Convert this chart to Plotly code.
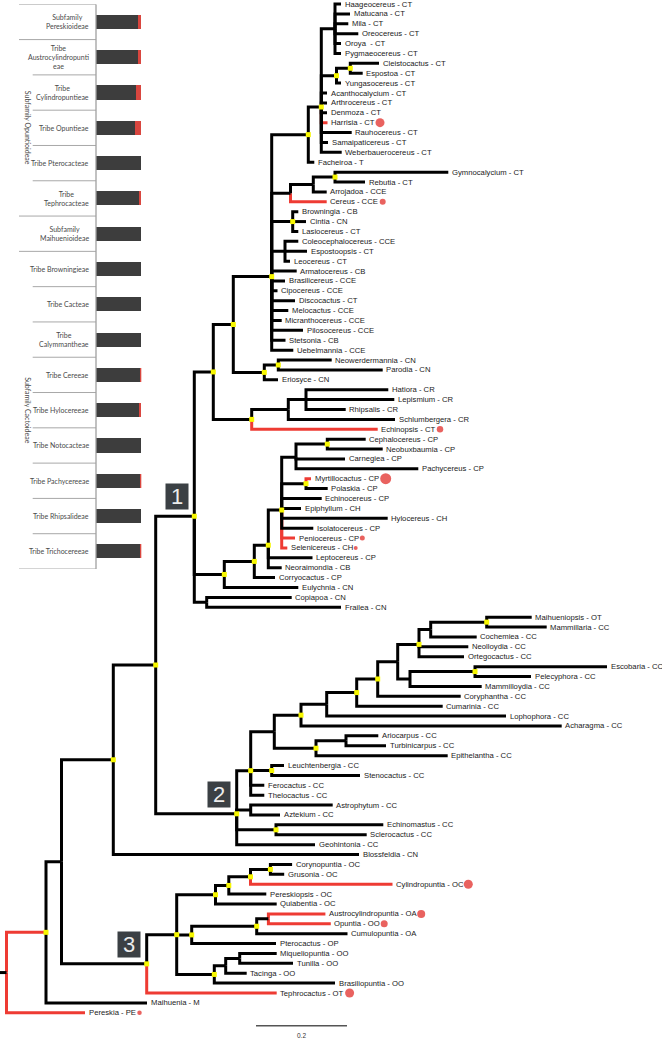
import plotly.graph_objects as go

# ---------------- tree data (leaf order top -> bottom) ----------------
leaf_names = [
    "Haageocereus", "Matucana", "Mila", "Oreocereus", "Oroya ", "Pygmaeocereus",
    "Cleistocactus", "Espostoa", "Yungasocereus", "Acanthocalycium", "Arthrocereus",
    "Denmoza", "Harrisia", "Rauhocereus", "Samaipaticereus", "Weberbauerocereus",
    "Facheiroa", "Gymnocalycium", "Rebutia", "Arrojadoa", "Cereus", "Browningia",
    "Cintia", "Lasiocereus", "Coleocephalocereus", "Espostoopsis", "Leocereus",
    "Armatocereus", "Brasilicereus", "Cipocereus", "Discocactus", "Melocactus",
    "Micranthocereus", "Pilosocereus", "Stetsonia", "Uebelmannia", "Neowerdermannia",
    "Parodia", "Eriosyce", "Hatiora", "Lepismium", "Rhipsalis", "Schlumbergera",
    "Echinopsis", "Cephalocereus", "Neobuxbaumia", "Carnegiea", "Pachycereus",
    "Myrtillocactus", "Polaskia", "Echinocereus", "Epiphyllum", "Hylocereus",
    "Isolatocereus", "Peniocereus", "Selenicereus", "Leptocereus", "Neoraimondia",
    "Corryocactus", "Eulychnia", "Copiapoa", "Frailea", "Maihueniopsis", "Mammillaria",
    "Cochemiea", "Neolloydia", "Ortegocactus", "Escobaria", "Pelecyphora",
    "Mammilloydia", "Coryphantha", "Cumarinia", "Lophophora", "Acharagma",
    "Ariocarpus", "Turbinicarpus", "Epithelantha", "Leuchtenbergia", "Stenocactus",
    "Ferocactus", "Thelocactus", "Astrophytum", "Aztekium", "Echinomastus",
    "Sclerocactus", "Geohintonia", "Blossfeldia", "Corynopuntia", "Grusonia",
    "Cylindropuntia", "Pereskiopsis", "Quiabentia", "Austrocylindropuntia", "Opuntia",
    "Cumulopuntia", "Pterocactus", "Miqueliopuntia", "Tunilla", "Tacinga",
    "Brasiliopuntia", "Tephrocactus", "Maihuenia", "Pereskia",
]
leaf_codes = [
    "CT", "CT", "CT", "CT", "CT", "CT", "CT", "CT", "CT", "CT", "CT", "CT", "CT", "CT", "CT", "CT",
    "T", "CT", "CT", "CCE", "CCE", "CB", "CN", "CT", "CCE", "CT", "CT", "CB", "CCE", "CCE",
    "CT", "CCE", "CCE", "CCE", "CB", "CCE", "CN", "CN", "CN", "CR", "CR", "CR", "CR", "CT",
    "CP", "CP", "CP", "CP", "CP", "CP", "CP", "CH", "CH", "CP", "CP", "CH", "CP", "CB",
    "CP", "CN", "CN", "CN", "OT", "CC", "CC", "CC", "CC", "CC", "CC", "CC", "CC", "CC",
    "CC", "CC", "CC", "CC", "CC", "CC", "CC", "CC", "CC", "CC", "CC", "CC", "CC", "CC",
    "CN", "OC", "OC", "OC", "OC", "OC", "OA", "OO", "OA", "OP", "OO", "OO", "OO", "OO",
    "OT", "M", "PE",
]
# cumulative depth of each tip (plot units; 455 units = 1 substitution/site)
leaf_depth = [
    341, 350, 348.3, 358.3, 341, 341, 379, 362.7, 341, 327,
    327, 327, 327.5, 351.7, 328, 341.7, 314.3, 448.3, 365, 326.7,
    326.7, 298.3, 306, 298.3, 298.3, 307, 290, 296.7, 285, 277.5,
    295, 288.3, 281.7, 303, 285.5, 293.3, 331.7, 382.7, 278, 388.3,
    394.3, 345.7, 395, 377.7, 365.7, 382.7, 345, 418.3, 311, 327.7,
    321.7, 301, 387.7, 313.3, 295, 287.3, 312.5, 281.7, 275, 298.3,
    291.7, 341, 531.7, 546.7, 476.7, 468.3, 464, 607, 531, 481.7,
    460.7, 442.7, 506, 561.7, 378.3, 386, 447.7, 284, 360, 264.3,
    264.3, 332.7, 280, 383.3, 366.7, 315, 359, 292.1, 284.2, 392.5,
    266.3, 276.7, 325.4, 330.8, 347.5, 276, 276.7, 293, 246.7, 335,
    276.7, 147, 85,
]
leaf_parent = [
    "nA", "nA", "nA", "nA", "nA", "nA", "nC", "nC", "nB", "n322",
    "n322", "n322", "n322", "n322", "n322", "n322", "n308", "nGR", "nGR", "n313",
    "n291", "nBrow", "nBrow", "nBrow", "nColeo", "nColeo", "nColeo", "n272", "n272", "n272",
    "n272", "n272", "n272", "n272", "n272", "n272", "n278", "n278", "n264", "nHat",
    "nHat", "nHat", "n288", "n252", "n327", "n327", "n296", "n296", "nMyr", "nMyr",
    "n282", "n282", "n282", "n282", "n282", "n282", "n268", "n268", "n254", "n224",
    "nCop", "nCop", "n487", "n487", "n431", "n419", "n419", "n475", "n475", "n410",
    "n378", "n357", "n327b", "n301", "n346", "n346", "n316", "n272b", "n272b", "n251a",
    "n251a", "n251b", "n251b", "n276", "n276", "N2", "n113", "n270", "n270", "n251c",
    "n229", "n216", "n268b", "n268b", "n257", "n192", "n240", "n240", "n226", "n214",
    "N3", "n46", "root",
]

node_ids = [
    "root", "n46", "n61", "n113", "n156", "N1", "n213", "n233", "n272", "n308",
    "n322", "nA", "nB", "nC", "n291", "n313", "nGR", "nBrow", "nColeo", "n264",
    "n278", "n252", "n288", "nHat", "n224", "n254", "n268", "n282", "n296", "n327",
    "nMyr", "nCop", "N2", "n251a", "n274", "n301", "n327b", "n357", "n378", "n398",
    "n419", "n431", "n487", "n410", "n475", "n316", "n346", "n272b", "n251b", "n276",
    "N3", "n177", "n216", "n229", "n251c", "n270", "n192", "n257", "n268b", "n214",
    "n226", "n240",
]
node_parent = [
    None, "root", "n46", "n61", "n113", "n156", "N1", "n213", "n233", "n272",
    "n308", "n322", "n322", "nB", "n272", "n291", "n313", "n272", "n272", "n233",
    "n264", "n213", "n252", "n288", "N1", "n224", "n254", "n268", "n282", "n296",
    "n282", "N1", "n156", "N2", "n251a", "n274", "n301", "n327b", "n357", "n378",
    "n398", "n419", "n431", "n398", "n410", "n274", "n316", "n251a", "N2", "N2",
    "n61", "N3", "n177", "n216", "n229", "n251c", "n177", "n192", "n257", "n177",
    "n214", "n226",
]
node_depth = [
    6.5, 46, 61.5, 113.3, 155.7, 194.3, 213.3, 233.3, 271.7, 308.3,
    321.3, 335, 336.5, 350.3, 290.5, 313.3, 335, 292.7, 285, 264.3,
    278.3, 251.7, 288.3, 306, 224.3, 254.3, 268.3, 281.7, 296, 327.3,
    306, 206.7, 236.7, 250.7, 274.3, 301, 326.7, 356.7, 377.7, 397.7,
    419, 430.7, 486.7, 410, 475, 316, 346, 271.7, 250.7, 276,
    146.7, 176.7, 215.5, 228.8, 250.5, 270.4, 191.7, 256.7, 268.4, 214.3,
    225.7, 239.7,
]
node_marked = [
    0, 1, 0, 1, 1, 1, 1, 1, 1, 1,
    1, 0, 1, 1, 0, 0, 1, 1, 0, 1,
    1, 1, 0, 0, 1, 1, 1, 1, 0, 1,
    1, 0, 1, 1, 0, 1, 0, 1, 1, 0,
    1, 0, 1, 0, 1, 1, 0, 1, 0, 1,
    1, 1, 1, 1, 1, 1, 1, 1, 0, 1,
    0, 0,
]

red_branches = ["Harrisia", "Cereus", "Echinopsis", "Myrtillocactus", "Peniocereus",
                "Selenicereus", "Cylindropuntia", "Austrocylindropuntia", "Opuntia",
                "Tephrocactus", "Pereskia", "n46"]

dot_taxa = ["Harrisia", "Cereus", "Echinopsis", "Myrtillocactus", "Peniocereus",
            "Selenicereus", "Cylindropuntia", "Austrocylindropuntia", "Opuntia",
            "Tephrocactus", "Pereskia"]
dot_x = [380, 382.7, 440, 385.7, 362.3, 355.7, 468.3, 421.2, 384.2, 349.6, 139.5]
dot_size = [9, 6, 6.5, 11, 5, 4, 9, 8, 7, 9, 4.5]

clade_tags = ["1", "2", "3"]
clade_nodes = ["N1", "N2", "N3"]

scale_value = 0.2
depth_per_unit = 455.0
scale_start = 256

# ---------------- side table data ----------------
tribe_keys = ["Pereskioideae", "Austrocylindropuntieae", "Cylindropuntieae", "Opuntieae",
              "Pterocacteae", "Tephrocacteae", "Maihuenioideae", "Browningieae", "Cacteae",
              "Calymmantheae", "Cereeae", "Hylocereeae", "Notocacteae", "Pachycereeae",
              "Rhipsalideae", "Trichocereeae"]
tribe_text = ["Subfamily<br>Pereskioideae", "Tribe<br>Austrocylindropunti<br>eae",
              "Tribe<br>Cylindropuntieae", "Tribe Opuntieae", "Tribe Pterocacteae",
              "Tribe<br>Tephrocacteae", "Subfamily<br>Maihuenioideae", "Tribe Browningieae",
              "Tribe Cacteae", "Tribe<br>Calymmantheae", "Tribe Cereeae", "Tribe Hylocereeae",
              "Tribe Notocacteae", "Tribe Pachycereeae", "Tribe Rhipsalideae",
              "Tribe Trichocereeae"]
tribe_red_share = [0.066, 0.073, 0.117, 0.13, 0.0, 0.06, 0.0, 0.0, 0.0, 0.0,
                   0.022, 0.045, 0.0, 0.022, 0.0, 0.022]
subfamily_labels = ["Subfamily Opuntioideae", "Subfamily Cactoideae"]
subfamily_first_row = [1, 7]
subfamily_last_row = [5, 15]
major_breaks = [0, 1, 6, 7, 16]

# ---------------- geometry ----------------
W, H = 662, 1039
LEAF_TOP_PX, LEAF_STEP_PX = 4.0, 9.89
y_top = -LEAF_TOP_PX / LEAF_STEP_PX
y_bot = (H - LEAF_TOP_PX) / LEAF_STEP_PX

leaf_y = list(range(len(leaf_names)))
kids = {n: [] for n in node_ids}
for i, p in enumerate(leaf_parent):
    kids[p].append(("L", i))
for n, p in zip(node_ids, node_parent):
    if p is not None:
        kids[p].append(("N", n))
ny = {}


def y_of(n):
    if n not in ny:
        vals = [leaf_y[c] if t == "L" else y_of(c) for t, c in kids[n]]
        ny[n] = sum(vals) / len(vals)
    return ny[n]


for n in node_ids:
    y_of(n)
nx = dict(zip(node_ids, node_depth))

segs = {"red": ([], []), "black": ([], [])}


def add(col, px, py, cx, cy):
    xs, ys = segs[col]
    xs += [px, px, cx, None]
    ys += [py, cy, cy, None]


for i, (name, p) in enumerate(zip(leaf_names, leaf_parent)):
    add("red" if name.strip() in red_branches else "black", nx[p], ny[p], leaf_depth[i], leaf_y[i])
for n, p in zip(node_ids, node_parent):
    if p is None:
        add("black", 0, ny[n], nx[n], ny[n])
    else:
        add("red" if n in red_branches else "black", nx[p], ny[p], nx[n], ny[n])

RED = "#ee3b33"
fig = go.Figure()
fig.add_trace(go.Scatter(x=segs["red"][0], y=segs["red"][1], mode="lines",
                         line=dict(color=RED, width=3), hoverinfo="skip"))
fig.add_trace(go.Scatter(x=segs["black"][0], y=segs["black"][1], mode="lines",
                         line=dict(color="#000000", width=3), hoverinfo="skip"))
mk = [n for n, m in zip(node_ids, node_marked) if m]
fig.add_trace(go.Scatter(x=[nx[n] for n in mk], y=[ny[n] for n in mk], mode="markers",
                         marker=dict(symbol="square", size=5, color="#f7f700",
                                     line=dict(width=0)), hoverinfo="skip"))
fig.add_trace(go.Scatter(x=dot_x, y=[leaf_y[leaf_names.index(t)] for t in dot_taxa],
                         mode="markers", marker=dict(size=dot_size, color="#e0201b",
                                                     line=dict(width=0)), hoverinfo="skip"))
# scale bar
fig.add_trace(go.Scatter(x=[scale_start, scale_start + scale_value * depth_per_unit],
                         y=[103.3, 103.3], mode="lines",
                         line=dict(color="#555555", width=1.5), hoverinfo="skip"))

annotations = []
LABEL_FONT = dict(family="Liberation Sans, Arial", size=7.7, color="#1a1a1a")
for i, (name, code) in enumerate(zip(leaf_names, leaf_codes)):
    annotations.append(dict(x=leaf_depth[i], y=leaf_y[i], xref="x", yref="y",
                            text=f"{name} - {code}", showarrow=False, xanchor="left",
                            yanchor="middle", xshift=2.5, borderpad=0, font=LABEL_FONT))
annotations.append(dict(x=scale_start + scale_value * depth_per_unit / 2, y=104.25,
                        xref="x", yref="y", text=str(scale_value), showarrow=False,
                        borderpad=0, yanchor="middle",
                        font=dict(family="Liberation Sans", size=6.5, color="#333")))
for tag, n in zip(clade_tags, clade_nodes):
    annotations.append(dict(x=nx[n], y=ny[n], xref="x", yref="y", text=tag, showarrow=False,
                            xanchor="right", yanchor="bottom", xshift=-5.5, yshift=6,
                            width=22, height=25, borderpad=0, bgcolor="#3b4044",
                            font=dict(family="Liberation Sans", size=22, color="#ececec")))

# side table
fig.add_trace(go.Bar(y=tribe_keys, x=[1 - r for r in tribe_red_share], orientation="h",
                     marker=dict(color="#3d3d3d", line=dict(width=0)), width=0.4,
                     xaxis="x2", yaxis="y2", hoverinfo="skip"))
fig.add_trace(go.Bar(y=tribe_keys, x=tribe_red_share, orientation="h",
                     marker=dict(color="#d9463f", line=dict(width=0)), width=0.4,
                     xaxis="x2", yaxis="y2", hoverinfo="skip"))
TBL_FONT = dict(family="Lato", size=7, color="#4a4a4a")
for k, t in zip(tribe_keys, tribe_text):
    annotations.append(dict(x=90.7 / W, y=k, xref="paper", yref="y2", text=t, showarrow=False,
                            xanchor="right", yanchor="middle", align="center", font=TBL_FONT))
for lab, a, b in zip(subfamily_labels, subfamily_first_row, subfamily_last_row):
    annotations.append(dict(x=22 / W, y=(a + b) / 2, xref="paper", yref="y2", text=lab,
                            showarrow=False, textangle=90, font=TBL_FONT))

shapes = []
for b in range(len(tribe_keys) + 1):
    x0 = 19 / W if b in major_breaks else 32.7 / W
    shapes.append(dict(type="line", xref="paper", yref="y2", x0=x0, x1=96 / W,
                       y0=b - 0.5, y1=b - 0.5, line=dict(color="#a8a8a8", width=1)))
shapes.append(dict(type="line", xref="paper", yref="y2", x0=96 / W, x1=96 / W,
                   y0=-0.5, y1=len(tribe_keys) - 0.5, line=dict(color="#a0a0a0", width=1.3)))

fig.update_layout(
    width=W, height=H, margin=dict(l=0, r=0, t=0, b=0),
    paper_bgcolor="white", plot_bgcolor="white", showlegend=False, barmode="stack",
    xaxis=dict(range=[0, W], visible=False, fixedrange=True),
    yaxis=dict(range=[y_bot, y_top], visible=False, fixedrange=True),
    xaxis2=dict(domain=[96 / W, 141.3 / W], range=[0, 1], visible=False, anchor="y2"),
    yaxis2=dict(domain=[1 - 569 / H, 1 - 4.3 / H], type="category",
                range=[len(tribe_keys) - 0.5, -0.5], visible=False, anchor="x2"),
    annotations=annotations, shapes=shapes,
)
fig.write_html("out.html", config={"displayModeBar": False},
               post_script="document.body.style.margin='0';document.body.style.padding='0';")
